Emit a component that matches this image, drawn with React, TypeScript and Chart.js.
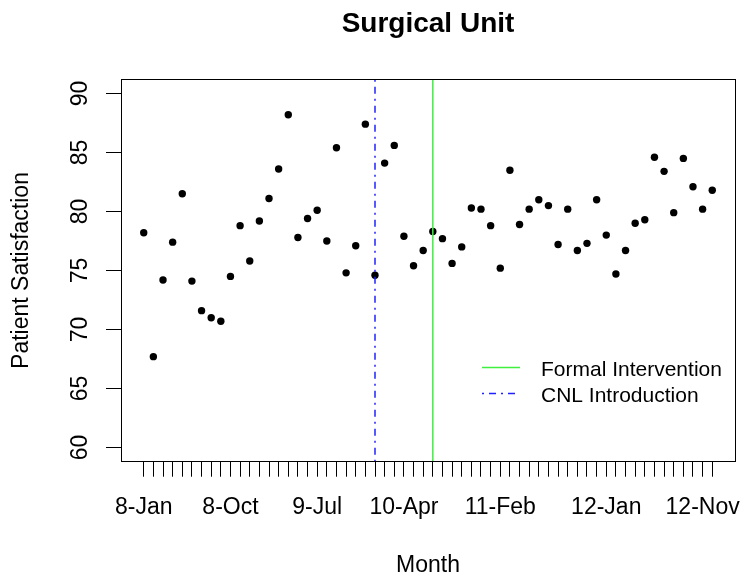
import React, { useEffect, useRef } from "react";
import { Chart, registerables } from "chart.js";

Chart.register(...registerables);

const months: string[] = [
  "8-Jan", "8-Feb", "8-Mar", "8-Apr", "8-May", "8-Jun", "8-Jul", "8-Aug", "8-Sep", "8-Oct", "8-Nov", "8-Dec",
  "9-Jan", "9-Feb", "9-Mar", "9-Apr", "9-May", "9-Jun", "9-Jul", "9-Aug", "9-Sep", "9-Oct", "9-Nov", "9-Dec",
  "10-Jan", "10-Feb", "10-Mar", "10-Apr", "10-May", "10-Jun", "10-Jul", "10-Aug", "10-Sep", "10-Oct", "10-Nov", "10-Dec",
  "11-Jan", "11-Feb", "11-Mar", "11-Apr", "11-May", "11-Jun", "11-Jul", "11-Aug", "11-Sep", "11-Oct", "11-Nov", "11-Dec",
  "12-Jan", "12-Feb", "12-Mar", "12-Apr", "12-May", "12-Jun", "12-Jul", "12-Aug", "12-Sep", "12-Oct", "12-Nov", "12-Dec",
];

const satisfaction: number[] = [
  78.2, 67.7, 74.2, 77.4, 81.5, 74.1, 71.6, 71.0, 70.7, 74.5, 78.8, 75.8,
  79.2, 81.1, 83.6, 88.2, 77.8, 79.4, 80.1, 77.5, 85.4, 74.8, 77.1, 87.4,
  74.6, 84.1, 85.6, 77.9, 75.4, 76.7, 78.3, 77.7, 75.6, 77.0, 80.3, 80.2,
  78.8, 75.2, 83.5, 78.9, 80.2, 81.0, 80.5, 77.2, 80.2, 76.7, 77.3, 81.0,
  78.0, 74.7, 76.7, 79.0, 79.3, 84.6, 83.4, 79.9, 84.5, 82.1, 80.2, 81.8,
];

const shownMonthLabels: string[] = ["8-Jan", "8-Oct", "9-Jul", "10-Apr", "11-Feb", "12-Jan", "12-Nov"];
const yTicks: number[] = [60, 65, 70, 75, 80, 85, 90];
const yLimits: number[] = [60, 90];

const cnlIntroductionMonth = "10-Jan";
const formalInterventionMonth = "10-Jul";

const FONT = "'Liberation Sans', Arial, Helvetica, sans-serif";
const GREEN = "#3ff03f";
const BLUE = "#2020ff";
const DOTDASH = [2, 5, 7, 5];

export default function App() {
  const ref = useRef<HTMLCanvasElement | null>(null);

  useEffect(() => {
    if (!ref.current) return;
    const n = months.length;
    const xExt = (n - 1) * 0.04;
    const yExt = (yLimits[1] - yLimits[0]) * 0.04;
    const yMin = yLimits[0] - yExt;
    const yMax = yLimits[1] + yExt;
    const cnlX = months.indexOf(cnlIntroductionMonth);
    const formalX = months.indexOf(formalInterventionMonth);

    const decor = {
      id: "rdecor",
      afterDraw(chart: any) {
        const ctx = chart.ctx as CanvasRenderingContext2D;
        const a = chart.chartArea;
        ctx.save();
        ctx.strokeStyle = "#000";
        ctx.lineWidth = 1;
        ctx.strokeRect(Math.round(a.left) + 0.5, Math.round(a.top) + 0.5, Math.round(a.right - a.left), Math.round(a.bottom - a.top));

        ctx.fillStyle = "#000";
        ctx.textAlign = "center";
        ctx.textBaseline = "alphabetic";
        ctx.font = `bold 28px ${FONT}`;
        ctx.fillText("Surgical Unit", (a.left + a.right) / 2, 31.5);

        ctx.font = `23px ${FONT}`;
        ctx.fillText("Month", (a.left + a.right) / 2, 572);

        ctx.save();
        ctx.translate(22, (a.top + a.bottom) / 2);
        ctx.rotate(-Math.PI / 2);
        ctx.textBaseline = "middle";
        ctx.fillText("Patient Satisfaction", 0, 0);
        ctx.restore();

        // legend
        ctx.lineWidth = 1.5;
        ctx.strokeStyle = GREEN;
        ctx.setLineDash([]);
        ctx.beginPath();
        ctx.moveTo(482, 367.5);
        ctx.lineTo(520, 367.5);
        ctx.stroke();
        ctx.strokeStyle = BLUE;
        ctx.setLineDash(DOTDASH);
        ctx.beginPath();
        ctx.moveTo(482, 393.5);
        ctx.lineTo(520, 393.5);
        ctx.stroke();
        ctx.setLineDash([]);
        ctx.font = `21px ${FONT}`;
        ctx.textAlign = "left";
        ctx.fillText("Formal Intervention", 541, 376);
        ctx.fillText("CNL Introduction", 541, 401.7);
        ctx.restore();
      },
    };

    const chart = new Chart(ref.current, {
      type: "scatter",
      data: {
        datasets: [
          {
            type: "line",
            label: "Formal Intervention",
            data: [
              { x: formalX, y: yMin },
              { x: formalX, y: yMax },
            ],
            borderColor: GREEN,
            borderWidth: 1.5,
            pointRadius: 0,
            order: 0,
          },
          {
            type: "line",
            label: "CNL Introduction",
            data: [
              { x: cnlX, y: yMin },
              { x: cnlX, y: yMax },
            ],
            borderColor: BLUE,
            borderWidth: 1.5,
            borderDash: DOTDASH,
            pointRadius: 0,
            order: 0,
          },
          {
            type: "scatter",
            label: "Patient Satisfaction",
            data: satisfaction.map((v, i) => ({ x: i, y: v })),
            backgroundColor: "#000",
            borderColor: "#000",
            pointRadius: 3.7,
            borderWidth: 0,
            order: 1,
          },
        ],
      },
      options: {
        responsive: false,
        animation: false,
        devicePixelRatio: 1,
        layout: { padding: { left: 0, top: 79.3, right: 9, bottom: 0 } },
        plugins: {
          legend: { display: false },
          tooltip: { enabled: false },
          title: { display: false },
        },
        scales: {
          x: {
            type: "linear",
            min: -xExt,
            max: n - 1 + xExt,
            afterBuildTicks: (axis: any) => {
              axis.ticks = months.map((_, i) => ({ value: i }));
            },
            afterFit: (axis: any) => {
              axis.height = 579 - 461.7;
            },
            ticks: {
              autoSkip: false,
              maxRotation: 0,
              minRotation: 0,
              padding: 17,
              color: "#000",
              font: { family: FONT, size: 23 },
              callback: (value: any) => {
                const lbl = months[Math.round(Number(value))];
                return shownMonthLabels.includes(lbl) ? lbl : "";
              },
            },
            grid: {
              drawOnChartArea: false,
              drawTicks: true,
              tickLength: 15,
              color: "#000",
              lineWidth: 1,
            },
            border: { display: false },
          },
          y: {
            type: "linear",
            min: yMin,
            max: yMax,
            afterBuildTicks: (axis: any) => {
              axis.ticks = yTicks.map((v) => ({ value: v }));
            },
            afterFit: (axis: any) => {
              axis.width = 121;
            },
            ticks: {
              autoSkip: false,
              minRotation: 90,
              maxRotation: 90,
              crossAlign: "center",
              padding: 13,
              color: "#000",
              font: { family: FONT, size: 23 },
              callback: (value: any) => String(value),
            },
            grid: {
              drawOnChartArea: false,
              drawTicks: true,
              tickLength: 15,
              color: "#000",
              lineWidth: 1,
            },
            border: { display: false },
          },
        },
      },
      plugins: [decor],
    } as any);

    return () => chart.destroy();
  }, []);

  return (
    <div style={{ position: "absolute", left: 0, top: 0, width: 744, height: 579, background: "#fff" }}>
      <canvas ref={ref} width={744} height={579} style={{ width: 744, height: 579, display: "block" }} />
    </div>
  );
}
